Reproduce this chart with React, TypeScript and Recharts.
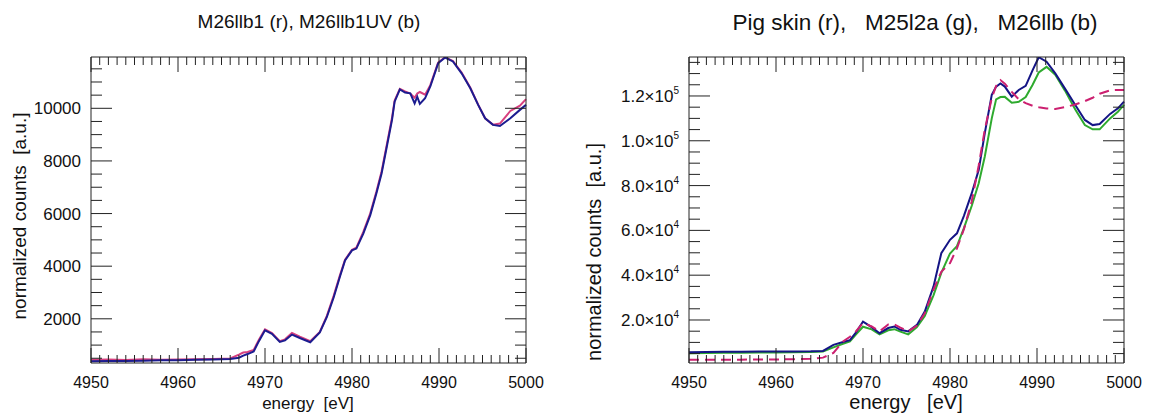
import React from "react"
import { LineChart, Line, XAxis, YAxis } from "recharts"

// left panel: M26llb1 (r) / M26llb1UV (b)
const leftEnergy = [
  4950, 4952, 4954, 4956, 4958, 4960, 4962, 4964, 4966, 4967, 4967.5, 4968, 4968.7, 4969.3, 4970,
  4970.8, 4971.7, 4972.3, 4973.1, 4974, 4975.2, 4976.3, 4977.1, 4977.9, 4978.6, 4979.2, 4980, 4980.5,
  4981.3, 4982.1, 4982.8, 4983.4, 4984, 4984.6, 4984.9, 4985.5, 4986.1, 4986.7, 4987.2, 4987.5, 4987.8,
  4988.4, 4989, 4989.9, 4990.7, 4991.6, 4992.6, 4993.6, 4994.5, 4995.3, 4996.2, 4997, 4998.2, 4999.3, 5000,
]
const leftRed = [
  440, 450, 430, 460, 440, 450, 460, 470, 490, 640, 720, 740, 820, 1200, 1600,
  1460, 1150, 1220, 1460, 1320, 1150, 1500, 2100, 2880, 3640, 4250, 4620, 4700,
  5300, 6010, 6830, 7600, 8620, 9640, 10300, 10740, 10640, 10560, 10400, 10560, 10620,
  10520, 10880, 11740, 11940, 11800, 11360, 10780, 10140, 9620, 9380, 9420, 9900, 10100, 10350,
]
const leftBlue = [
  390, 400, 395, 410, 420, 420, 440, 450, 470, 520, 600, 660, 760, 1150, 1560,
  1430, 1120, 1180, 1400, 1270, 1110, 1480, 2060, 2820, 3590, 4220, 4600, 4670,
  5240, 5940, 6760, 7520, 8540, 9560, 10250, 10720, 10600, 10570, 10190, 10440, 10170,
  10380, 10830, 11710, 11930, 11780, 11330, 10760, 10130, 9620, 9370, 9330, 9620, 9940, 10130,
]

// right panel: Pig skin (r) / M25l2a (g) / M26llb (b)
const rightEnergy = [
  4950, 4952, 4954, 4956, 4958, 4960, 4962, 4964, 4965.4, 4966.6, 4967.7, 4968.5, 4969.2,
  4970, 4971, 4971.9, 4972.9, 4973.6, 4974.3, 4975.2, 4976.2, 4977.1, 4978.1,
  4979, 4980, 4980.8, 4981.6, 4982.5, 4983.3, 4984, 4984.8, 4985.3, 4985.8,
  4986.3, 4987.1, 4987.9, 4988.7, 4989.5, 4990.2, 4991.1, 4992.1, 4993.2, 4994.4,
  4995.5, 4996.4, 4997.2, 4998.4, 4999.3, 5000,
]
const rightRed = [
  2200, 2200, 2300, 2300, 2400, 2400, 2500, 2700, 3200, 5300, 10400, 12500, 15000,
  18600, 17100, 14900, 18000, 18000, 16600, 14900, 17500, 23000, 33500,
  41500, 45400, 52000, 60500, 73000, 89000, 105000, 119000, 124500, 127100,
  125500, 121800, 118500, 116800, 115600, 115000, 114400, 114200, 115000, 116200,
  117700, 119200, 121000, 122500, 122700, 122700,
]
const rightGreen = [
  5200, 5300, 5400, 5400, 5500, 5500, 5600, 5700, 5900, 7800, 9400, 10400, 13600,
  17000, 15800, 13600, 15400, 15900, 14800, 13600, 16800, 21800, 31000,
  41000, 49700, 53000, 61000, 71000, 81000, 93000, 110000, 118500, 119500,
  119600, 117000, 117400, 119500, 125000, 130500, 133000, 129500, 122500, 114000,
  107000, 105100, 105100, 110000, 113000, 116000,
]
const rightBlue = [
  5650, 5700, 5800, 5800, 5900, 5900, 5950, 6000, 6200, 8900, 10200, 11000, 14500,
  19300, 16800, 14100, 16400, 17100, 15600, 14900, 17800, 23800, 34900,
  49800, 55800, 58700, 66500, 76600, 87000, 103400, 120500, 124200, 125600,
  124200, 119700, 122700, 124500, 131500, 137300, 135300, 130100, 123400, 116000,
  109300, 107000, 107500, 112000, 114500, 117500,
]

const xMajor = [4950, 4960, 4970, 4980, 4990, 5000]
const leftYMajor = [2000, 4000, 6000, 8000, 10000]
const rightYMajor = [20000, 40000, 60000, 80000, 100000, 120000]

const leftData = leftEnergy.map((e, i) => ({ e, r: leftRed[i], b: leftBlue[i] }))
const rightData = rightEnergy.map((e, i) => ({ e, r: rightRed[i], g: rightGreen[i], b: rightBlue[i] }))

function withMinor(lo: number, hi: number, step: number) {
  const out: number[] = []
  for (let v = lo; v <= hi + 1e-9; v += step) out.push(Math.round(v))
  return out
}

const xTicks = withMinor(4950, 5000, 1)
const leftYTicks = withMinor(500, 11500, 500)
const rightYTicks = withMinor(5000, 135000, 5000)

const font = "'Liberation Sans', Arial, Helvetica, sans-serif"
const ink = "#222"

const BottomTick = (props: any) => {
  const { x, y, payload } = props
  const major = xMajor.includes(payload.value)
  return (
    <g>
      <line x1={x} x2={x} y1={y} y2={y - (major ? 15 : 8)} stroke={ink} />
      {major && (
        <text x={x} y={y + 25} textAnchor="middle" fontSize={16} fontFamily={font} fill="#111">
          {payload.value}
        </text>
      )}
    </g>
  )
}

const TopTick = (props: any) => {
  const { x, y, payload } = props
  const major = xMajor.includes(payload.value)
  return <line x1={x} x2={x} y1={y} y2={y + (major ? 15 : 8)} stroke={ink} />
}

const makeLeftTick = (majors: number[], fmt: (v: number) => React.ReactNode) => (props: any) => {
  const { x, y, payload } = props
  const major = majors.includes(payload.value)
  return (
    <g>
      <line x1={x} x2={x + (major ? 21 : 11)} y1={y} y2={y} stroke={ink} />
      {major && (
        <text x={x - 10} y={y + 6} textAnchor="end" fontSize={17} fontFamily={font} fill="#111">
          {fmt(payload.value)}
        </text>
      )}
    </g>
  )
}

const makeRightTick = (majors: number[]) => (props: any) => {
  const { x, y, payload } = props
  const major = majors.includes(payload.value)
  return <line x1={x} x2={x - (major ? 21 : 11)} y1={y} y2={y} stroke={ink} />
}

const sciLabel = (v: number) => {
  const exp = Math.floor(Math.log10(v))
  const mant = (v / Math.pow(10, exp)).toFixed(1)
  return (
    <>
      <tspan>{mant}×10</tspan>
      <tspan dy={-8} fontSize={10}>{exp}</tspan>
    </>
  )
}

const LeftYTick = makeLeftTick(leftYMajor, (v) => String(v))
const RightYTickL = makeLeftTick(rightYMajor, sciLabel)
const LeftYTickR = makeRightTick(leftYMajor)
const RightYTickR = makeRightTick(rightYMajor)

const abs = (left: number, top: number, extra: React.CSSProperties = {}): React.CSSProperties => ({
  position: "absolute",
  left,
  top,
  transform: "translate(-50%, -50%)",
  whiteSpace: "pre",
  fontFamily: font,
  lineHeight: 1,
  color: "#111",
  ...extra,
})

export default function App() {
  const axisLine = { stroke: ink, strokeWidth: 1 }
  return (
    <div style={{ position: "absolute", left: 0, top: 0, width: 1152, height: 415, background: "#fff" }}>
      <div style={{ position: "absolute", left: 0, top: 0 }}>
        <LineChart width={576} height={415} data={leftData} margin={{ top: 56, right: 49, bottom: 22, left: 31 }}>
          <XAxis
            type="number"
            dataKey="e"
            domain={[4950, 5000]}
            ticks={xTicks}
            interval={0}
            tickSize={0}
            tickMargin={0}
            height={30}
            axisLine={axisLine}
            tickLine={false}
            tick={<BottomTick />}
          />
          <XAxis
            xAxisId="top"
            orientation="top"
            type="number"
            dataKey="e"
            domain={[4950, 5000]}
            ticks={xTicks}
            interval={0}
            tickSize={0}
            tickMargin={0}
            height={1}
            axisLine={axisLine}
            tickLine={false}
            tick={<TopTick />}
          />
          <YAxis
            type="number"
            domain={[320, 11950]}
            allowDataOverflow
            ticks={leftYTicks}
            interval={0}
            tickSize={0}
            tickMargin={0}
            width={60}
            axisLine={axisLine}
            tickLine={false}
            tick={<LeftYTick />}
          />
          <YAxis
            yAxisId="right"
            orientation="right"
            type="number"
            domain={[320, 11950]}
            allowDataOverflow
            ticks={leftYTicks}
            interval={0}
            tickSize={0}
            tickMargin={0}
            width={1}
            axisLine={axisLine}
            tickLine={false}
            tick={<LeftYTickR />}
          />
          <Line type="linear" dataKey="r" stroke="#d8407f" strokeWidth={2} dot={false} isAnimationActive={false} />
          <Line type="linear" dataKey="b" stroke="#1c1c90" strokeWidth={2} dot={false} isAnimationActive={false} />
        </LineChart>
      </div>

      <div style={{ position: "absolute", left: 576, top: 0 }}>
        <LineChart width={576} height={415} data={rightData} margin={{ top: 56, right: 27, bottom: 22, left: 33 }}>
          <XAxis
            type="number"
            dataKey="e"
            domain={[4950, 5000]}
            ticks={xTicks}
            interval={0}
            tickSize={0}
            tickMargin={0}
            height={30}
            axisLine={axisLine}
            tickLine={false}
            tick={<BottomTick />}
          />
          <XAxis
            xAxisId="top"
            orientation="top"
            type="number"
            dataKey="e"
            domain={[4950, 5000]}
            ticks={xTicks}
            interval={0}
            tickSize={0}
            tickMargin={0}
            height={1}
            axisLine={axisLine}
            tickLine={false}
            tick={<TopTick />}
          />
          <YAxis
            type="number"
            domain={[800, 137400]}
            allowDataOverflow
            ticks={rightYTicks}
            interval={0}
            tickSize={0}
            tickMargin={0}
            width={80}
            axisLine={axisLine}
            tickLine={false}
            tick={<RightYTickL />}
          />
          <YAxis
            yAxisId="right"
            orientation="right"
            type="number"
            domain={[800, 137400]}
            allowDataOverflow
            ticks={rightYTicks}
            interval={0}
            tickSize={0}
            tickMargin={0}
            width={1}
            axisLine={axisLine}
            tickLine={false}
            tick={<RightYTickR />}
          />
          <Line type="linear" dataKey="g" stroke="#2eaa2e" strokeWidth={2} dot={false} isAnimationActive={false} />
          <Line type="linear" dataKey="b" stroke="#141485" strokeWidth={2} dot={false} isAnimationActive={false} />
          <Line type="linear" dataKey="r" stroke="#cc2070" strokeWidth={2} strokeDasharray="10 6" dot={false} isAnimationActive={false} />
        </LineChart>
      </div>

      <div style={abs(309, 21, { fontSize: 19 })}>M26llb1 (r), M26llb1UV (b)</div>
      <div style={abs(915, 23, { fontSize: 22.5 })}>Pig skin (r),   M25l2a (g),   M26llb (b)</div>
      <div style={abs(308, 403, { fontSize: 17 })}>energy  [eV]</div>
      <div style={abs(906, 402, { fontSize: 20 })}>energy   [eV]</div>
      <div style={abs(19, 216, { fontSize: 19, transform: "translate(-50%, -50%) rotate(-90deg)" })}>
        normalized counts  [a.u.]
      </div>
      <div style={abs(594, 252, { fontSize: 20, transform: "translate(-50%, -50%) rotate(-90deg)" })}>
        normalized counts  [a.u.]
      </div>
    </div>
  )
}
